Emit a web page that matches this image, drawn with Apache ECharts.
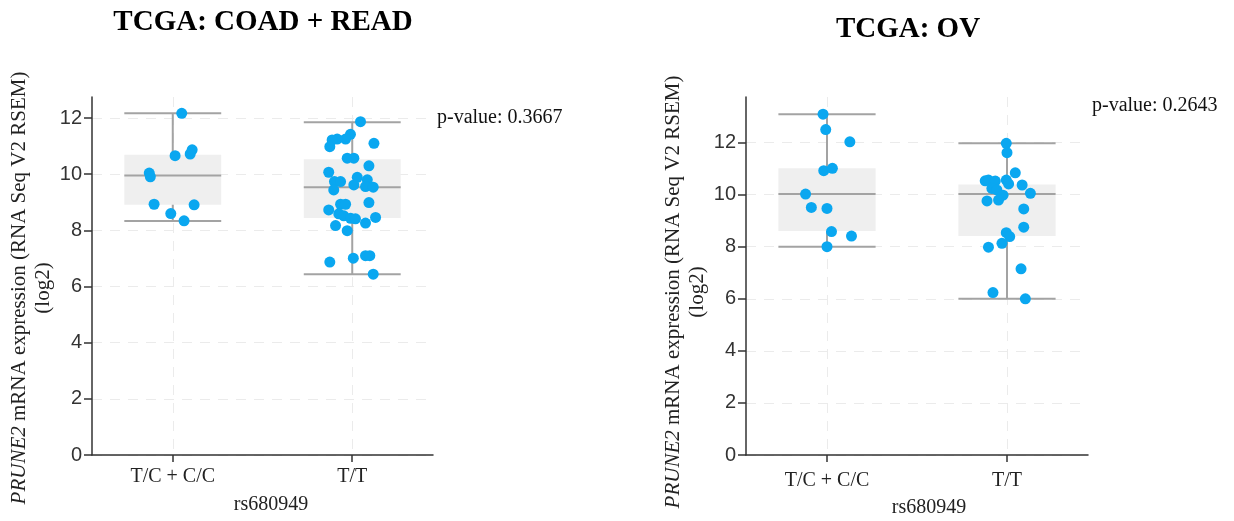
<!DOCTYPE html>
<html>
<head>
<meta charset="utf-8">
<script src="https://cdn.jsdelivr.net/npm/echarts@6/dist/echarts.min.js"></script>
<style>
  html, body { margin: 0; background: #fff; }
  #chart { width: 1234px; height: 521px; }
</style>
</head>
<body>
<div id="chart"></div>
<script>
var groups = ['T/C + C/C', 'T/T'];
var yTicks = [0, 2, 4, 6, 8, 10, 12];

// box stats per group: [low whisker, q1, median, q3, high whisker]
var coadBox = [[8.33, 8.91, 9.95, 10.69, 12.17], [6.44, 8.44, 9.54, 10.53, 11.85]];
var ovBox = [[8.00, 8.60, 10.02, 11.01, 13.09], [6.00, 8.41, 10.02, 10.39, 11.97]];

// points (value) + horizontal jitter
var coadTCy = [12.17, 10.66, 10.72, 10.87, 10.04, 9.91, 8.93, 8.91, 8.60, 8.34];
var coadTCx = [0.05, 0.013, 0.097, 0.108, -0.131, -0.125, -0.104, 0.119, -0.011, 0.063];
var coadTTy = [11.87, 11.10, 11.42, 11.25, 11.25, 11.22, 10.98, 10.57, 10.57, 10.30, 10.07, 9.89,
  9.74, 9.74, 9.80, 9.62, 9.44, 9.56, 9.54, 8.99, 8.93, 8.93, 8.73, 8.59, 8.52, 8.43, 8.41, 8.46,
  8.26, 8.17, 7.99, 6.87, 7.01, 7.10, 7.10, 6.44];
var coadTTx = [0.046, 0.121, -0.01, -0.037, -0.084, -0.112, -0.125, -0.028, 0.009, 0.093, -0.131, 0.028,
  -0.099, -0.065, 0.084, 0.009, -0.103, 0.074, 0.117, 0.093, -0.065, -0.037, -0.131, -0.075, -0.047, -0.009, 0.018, 0.13,
  0.074, -0.093, -0.028, -0.125, 0.006, 0.074, 0.098, 0.117];
var ovTCy = [13.09, 12.50, 12.03, 10.92, 11.01, 10.02, 9.51, 9.47, 8.58, 8.41, 8.00];
var ovTCx = [-0.022, -0.007, 0.127, -0.018, 0.03, -0.119, -0.087, 0, 0.025, 0.136, 0];
var ovTTy = [11.97, 11.61, 10.84, 10.53, 10.56, 10.52, 10.56, 10.41, 10.37, 10.24, 10.18, 10.05,
  9.98, 9.79, 9.76, 9.45, 8.75, 8.54, 8.39, 8.13, 7.98, 7.15, 6.24, 6.00];
var ovTTx = [-0.004, 0, 0.046, -0.121, -0.103, -0.065, -0.004, 0.009, 0.084, -0.084, -0.056, 0.13,
  -0.022, -0.047, -0.111, 0.093, 0.093, -0.004, 0.015, -0.028, -0.103, 0.078, -0.078, 0.102];

var pValues = ['0.3667', '0.2643'];

var serif = 'Liberation Serif';
var boxWidth = 0.54;
var ptColor = '#0aa7f0';
var axisColor = '#333';

function points(ys, xs, g) {
  return ys.map(function (v, k) { return [g + xs[k], v]; });
}

function renderBox(params, api) {
  var x = api.value(0);
  var low = api.coord([x, api.value(1)]);
  var q1 = api.coord([x, api.value(2)]);
  var med = api.coord([x, api.value(3)]);
  var q3 = api.coord([x, api.value(4)]);
  var high = api.coord([x, api.value(5)]);
  var w = api.size([boxWidth, 0])[0];
  var cx = low[0];
  function st() { return { stroke: '#a3a3a3', lineWidth: 2 }; }
  function hline(p) {
    return { type: 'line', shape: { x1: cx - w / 2, y1: p[1], x2: cx + w / 2, y2: p[1] }, style: st() };
  }
  return {
    type: 'group',
    children: [
      { type: 'line', shape: { x1: cx, y1: high[1], x2: cx, y2: low[1] }, style: st() },
      { type: 'rect', shape: { x: cx - w / 2, y: q3[1], width: w, height: q1[1] - q3[1] }, style: { fill: '#efefef' } },
      hline(low), hline(high), hline(med)
    ]
  };
}

function xAxisCfg(i, margin) {
  return {
    type: 'value', gridIndex: i, min: -0.45, max: 1.45,
    axisLine: { onZero: false, lineStyle: { color: axisColor, width: 1.5 } },
    axisTick: { customValues: [0, 1], length: 7, lineStyle: { color: axisColor, width: 1.5 } },
    axisLabel: {
      customValues: [0, 1], margin: margin,
      formatter: function (v) { return groups[v]; },
      fontFamily: serif, fontSize: 20, color: '#222'
    },
    splitLine: { show: true, lineStyle: { color: '#ebebeb', type: [10, 8] } }
  };
}

function yAxisCfg(i, max) {
  return {
    type: 'value', gridIndex: i, min: 0, max: max,
    axisLine: { show: true, onZero: false, lineStyle: { color: axisColor, width: 1.5 } },
    axisTick: { show: true, customValues: yTicks, length: 8, lineStyle: { color: axisColor, width: 1.5 } },
    axisLabel: { customValues: yTicks, margin: 10, fontFamily: 'Liberation Sans', fontSize: 20, color: '#333' },
    splitLine: { show: true, lineStyle: { color: '#ebebeb', type: [10, 8] } }
  };
}

function boxSeries(i, stats) {
  return {
    type: 'custom', xAxisIndex: i, yAxisIndex: i, z: 2,
    renderItem: renderBox,
    encode: { x: 0, y: [1, 2, 3, 4, 5] },
    data: stats.map(function (b, g) { return [g].concat(b); })
  };
}

function dotSeries(i, data) {
  return {
    type: 'scatter', xAxisIndex: i, yAxisIndex: i, z: 5,
    symbolSize: 11, itemStyle: { color: ptColor, opacity: 1 },
    data: data
  };
}

function text(x, y, str, size, extra) {
  var s = { text: str, x: 0, y: 0, fontFamily: serif, fontSize: size, fill: '#111', align: 'center', verticalAlign: 'middle' };
  for (var k in extra) s[k] = extra[k];
  return { type: 'text', x: x, y: y, style: s, z: 10 };
}

function yName(x, y) {
  var el = text(x, y, '{i|PRUNE2} mRNA expression (RNA Seq V2 RSEM)\n(log2)', 21, {
    lineHeight: 24, fill: '#222',
    rich: { i: { fontStyle: 'italic', fontFamily: serif, fontSize: 21, lineHeight: 24, fill: '#222' } }
  });
  el.rotation = Math.PI / 2;
  return el;
}

var chart = echarts.init(document.getElementById('chart'));
chart.setOption({
  animation: false,
  grid: [
    { left: 92, top: 97, width: 341, height: 358 },
    { left: 746, top: 97, width: 342, height: 358 }
  ],
  xAxis: [xAxisCfg(0, 12), xAxisCfg(1, 16)],
  yAxis: [yAxisCfg(0, 12.75), yAxisCfg(1, 13.75)],
  series: [
    boxSeries(0, coadBox),
    boxSeries(1, ovBox),
    dotSeries(0, points(coadTCy, coadTCx, 0).concat(points(coadTTy, coadTTx, 1))),
    dotSeries(1, points(ovTCy, ovTCx, 0).concat(points(ovTTy, ovTTx, 1)))
  ],
  graphic: [
    text(263, 23, 'TCGA: COAD + READ', 29, { fontWeight: 'bold', fill: '#000' }),
    text(908, 30, 'TCGA: OV', 29, { fontWeight: 'bold', fill: '#000' }),
    text(437, 118, 'p-value: ' + pValues[0], 20, { align: 'left' }),
    text(1092, 106, 'p-value: ' + pValues[1], 20, { align: 'left' }),
    text(271, 505, 'rs680949', 20, { fill: '#222' }),
    text(929, 508, 'rs680949', 20, { fill: '#222' }),
    yName(31, 288),
    yName(685, 292)
  ]
});
</script>
</body>
</html>
